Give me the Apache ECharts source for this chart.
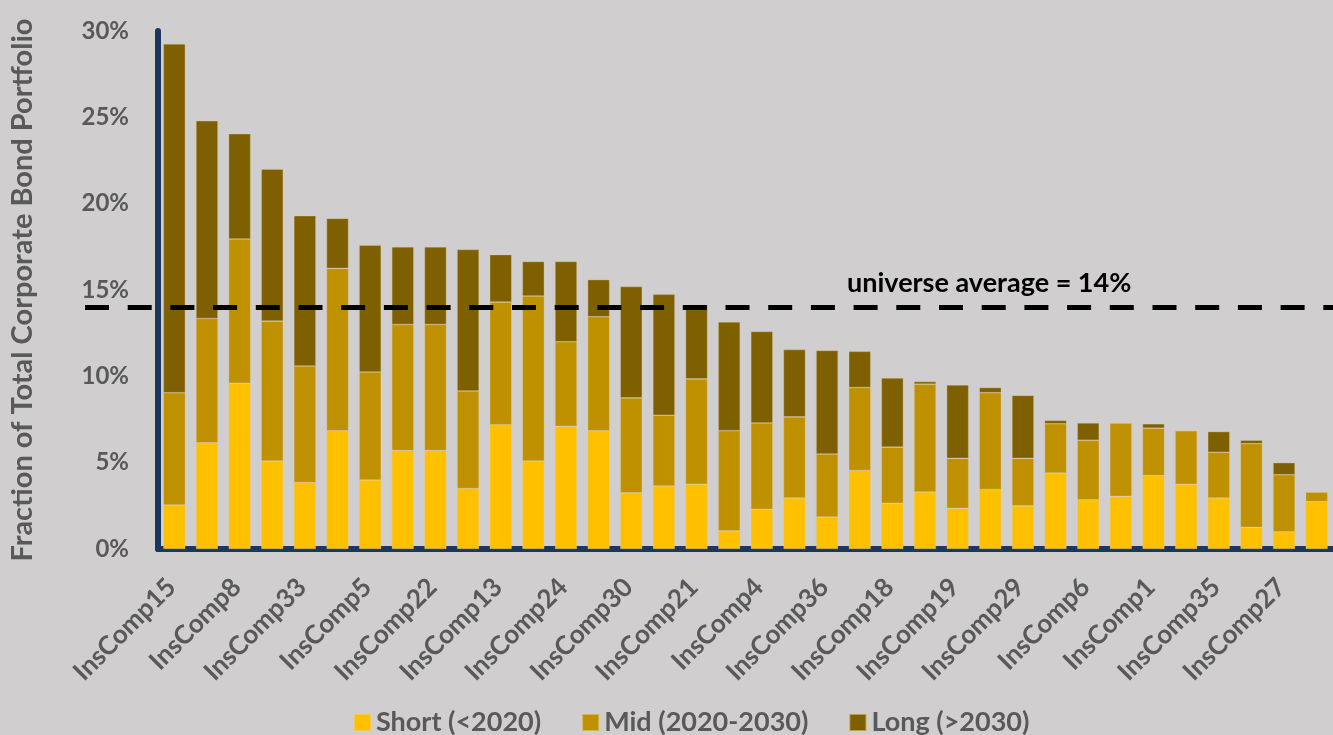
<!DOCTYPE html>
<html>
<head>
<meta charset="utf-8">
<title>Corporate bond portfolio maturity mix</title>
<script src="https://cdn.jsdelivr.net/npm/echarts@6/dist/echarts.min.js"></script>
<style>
  html, body { margin: 0; padding: 0; background: #D0CECE; }
  #chart { width: 1333px; height: 735px; }
</style>
</head>
<body>
<div id="chart"></div>
<script>
// Insurers, sorted by total corporate-bond share (every other name is shown on the axis)
const companies = [
  'InsComp15', 'InsComp11', 'InsComp8', 'InsComp26', 'InsComp33', 'InsComp3',
  'InsComp5', 'InsComp17', 'InsComp22', 'InsComp31', 'InsComp13', 'InsComp9',
  'InsComp24', 'InsComp2', 'InsComp30', 'InsComp20', 'InsComp21', 'InsComp34',
  'InsComp4', 'InsComp12', 'InsComp36', 'InsComp7', 'InsComp18', 'InsComp25',
  'InsComp19', 'InsComp14', 'InsComp29', 'InsComp32', 'InsComp6', 'InsComp10',
  'InsComp1', 'InsComp28', 'InsComp35', 'InsComp16', 'InsComp27', 'InsComp23'
];

// Share of the total corporate bond portfolio, in percent, by maturity bucket
const shortTerm = [
  2.55, 6.15, 9.6, 5.1, 3.85, 6.85, 4.0, 5.7, 5.7, 3.5, 7.2, 5.1,
  7.1, 6.85, 3.25, 3.65, 3.75, 1.05, 2.3, 2.95, 1.85, 4.55, 2.65, 3.3,
  2.35, 3.45, 2.5, 4.4, 2.85, 3.05, 4.25, 3.75, 2.95, 1.25, 1.0, 2.75
];
const midTerm = [
  6.5, 7.2, 8.35, 8.1, 6.75, 9.4, 6.25, 7.3, 7.3, 5.65, 7.1, 9.55,
  4.9, 6.6, 5.5, 4.1, 6.1, 5.8, 5.0, 4.7, 3.65, 4.8, 3.25, 6.25,
  2.9, 5.6, 2.75, 2.85, 3.45, 4.25, 2.75, 3.1, 2.65, 4.85, 3.3, 0.55
];
const longTerm = [
  20.2, 11.45, 6.1, 8.8, 8.7, 2.9, 7.35, 4.5, 4.5, 8.2, 2.75, 2.0,
  4.65, 2.15, 6.45, 7.0, 4.3, 6.3, 5.3, 3.9, 6.0, 2.1, 4.0, 0.15,
  4.25, 0.3, 3.65, 0.2, 1.0, 0, 0.25, 0, 1.2, 0.2, 0.7, 0
];

const seriesNames = ['Short (<2020)', 'Mid (2020-2030)', 'Long (>2030)'];
const universeAverage = 14;

const FONT = 'Lato, "Open Sans", "DejaVu Sans", sans-serif';
const GREY = '#595959';
const NAVY = '#1B375F';

const chart = echarts.init(document.getElementById('chart'), null, { renderer: 'canvas' });

const barStyle = (color) => ({
  color: color,
  borderColor: 'rgba(225, 210, 160, 0.55)',
  borderWidth: 0.6
});

chart.setOption({
  backgroundColor: '#D0CECE',
  animation: false,
  textStyle: { fontFamily: FONT },
  grid: { left: 158, top: 31, bottom: 186, width: 1181 },
  legend: {
    data: seriesNames,
    left: 353,
    top: 709,
    padding: 0,
    icon: 'rect',
    itemWidth: 17,
    itemHeight: 17,
    itemGap: 40,
    textStyle: { color: GREY, fontSize: 27, fontWeight: 'bold', fontFamily: FONT }
  },
  xAxis: {
    type: 'category',
    data: companies,
    axisLine: { show: true, lineStyle: { color: NAVY, width: 6 } },
    axisTick: { show: false },
    axisLabel: {
      interval: 1,
      rotate: 45,
      margin: 31,
      padding: [0, 4, 0, 0],
      color: GREY,
      fontSize: 26,
      fontWeight: 'bold',
      fontFamily: FONT
    }
  },
  yAxis: {
    type: 'value',
    min: 0,
    max: 30,
    interval: 5,
    name: 'Fraction of Total Corporate Bond Portfolio',
    nameLocation: 'middle',
    nameRotate: 90,
    nameGap: 121,
    nameTextStyle: { color: GREY, fontSize: 29, fontWeight: 'bold', fontFamily: FONT },
    axisLine: { show: true, lineStyle: { color: NAVY, width: 6 } },
    axisTick: { show: false },
    splitLine: { show: false },
    axisLabel: {
      formatter: '{value}%',
      margin: 29,
      color: GREY,
      fontSize: 24,
      fontWeight: 'bold',
      fontFamily: FONT
    }
  },
  series: [
    {
      name: seriesNames[0],
      type: 'bar',
      stack: 'total',
      barWidth: 22,
      itemStyle: barStyle('#FFC000'),
      data: shortTerm
    },
    {
      name: seriesNames[1],
      type: 'bar',
      stack: 'total',
      barWidth: 22,
      itemStyle: barStyle('#BF9000'),
      data: midTerm
    },
    {
      name: seriesNames[2],
      type: 'bar',
      stack: 'total',
      barWidth: 22,
      itemStyle: barStyle('#7F6000'),
      data: longTerm,
      markLine: {
        silent: true,
        symbol: ['none', 'none'],
        lineStyle: { color: '#000000', width: 5, type: [24, 18.7], opacity: 1 },
        label: {
          show: true,
          position: 'insideStartTop',
          distance: [762, 10],
          color: '#000000',
          fontSize: 27,
          fontWeight: 'bold',
          fontFamily: FONT,
          formatter: () => 'universe average = ' + universeAverage + '%'
        },
        data: [[
          { x: 85, yAxis: universeAverage },
          { x: '100%', yAxis: universeAverage }
        ]]
      }
    }
  ]
});
</script>
</body>
</html>
